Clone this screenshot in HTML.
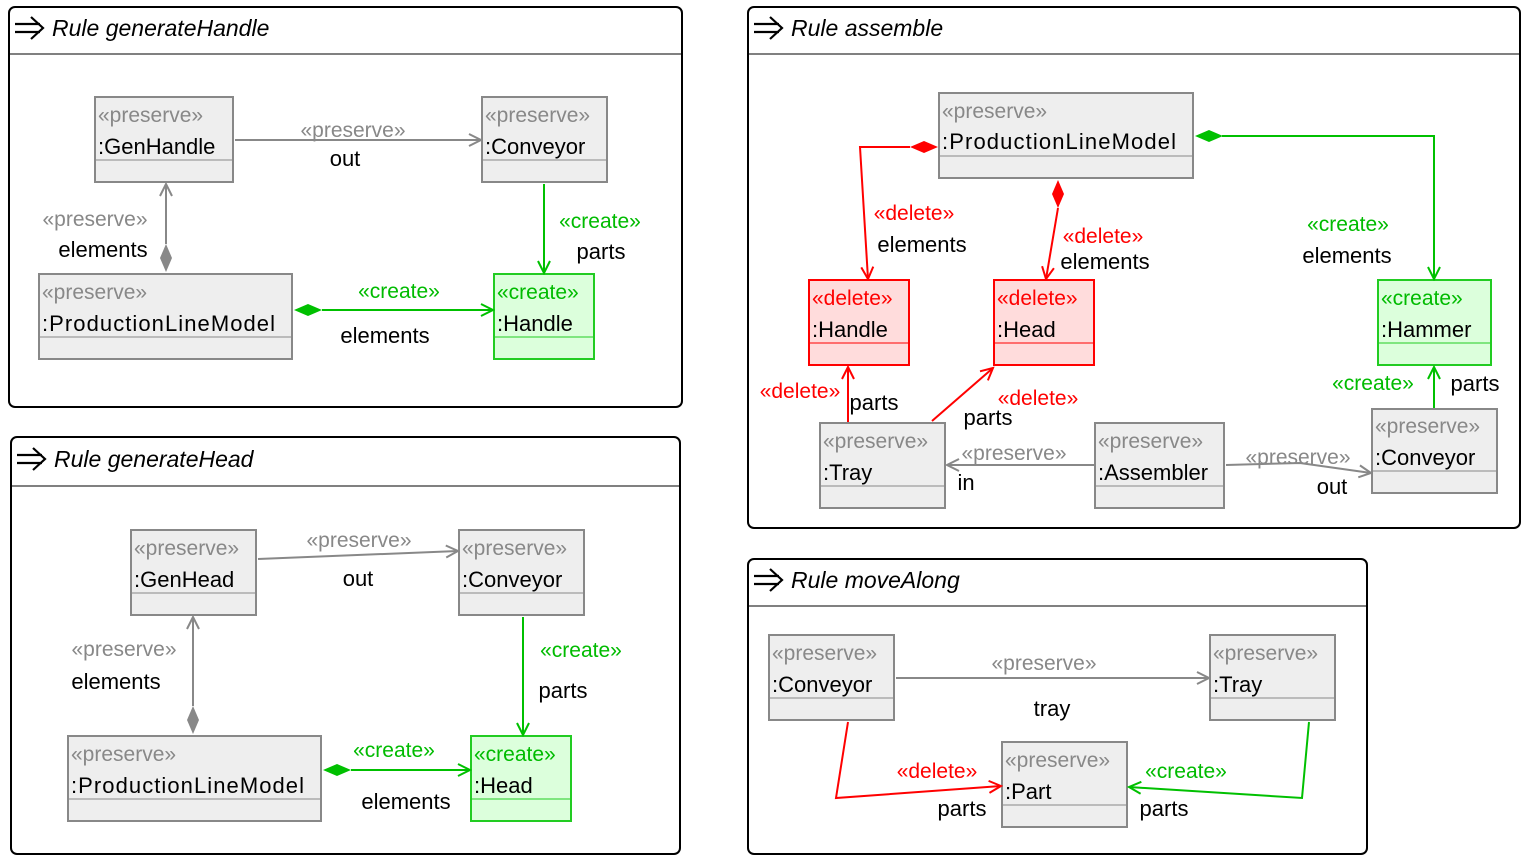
<!DOCTYPE html>
<html><head><meta charset="utf-8"><style>
html,body{margin:0;padding:0;background:#fff;}
svg{display:block;font-family:"Liberation Sans",sans-serif;}
.st{font-size:21px;fill:#888;}
.nm{font-size:22px;fill:#000;}
.lb{font-size:22px;fill:#000;}
.g{fill:#888;} .r{fill:#f00;} .c{fill:#00bb00;}
.hd{font-size:23px;font-style:italic;fill:#000;}
</style></head><body>
<svg width="1534" height="860" viewBox="0 0 1534 860" xmlns="http://www.w3.org/2000/svg">
<defs>
<marker id="ag" markerWidth="16" markerHeight="16" refX="14" refY="8" orient="auto" markerUnits="userSpaceOnUse"><path d="M2,2 L14,8 L2,14" fill="none" stroke="#888" stroke-width="2"/></marker>
<marker id="ar" markerWidth="16" markerHeight="16" refX="14" refY="8" orient="auto" markerUnits="userSpaceOnUse"><path d="M2,2 L14,8 L2,14" fill="none" stroke="#f00" stroke-width="2"/></marker>
<marker id="ac" markerWidth="16" markerHeight="16" refX="14" refY="8" orient="auto" markerUnits="userSpaceOnUse"><path d="M2,2 L14,8 L2,14" fill="none" stroke="#00c000" stroke-width="2"/></marker>
</defs>

<g fill="none" stroke="#000" stroke-width="2">
<rect x="9" y="7" width="673" height="400" rx="6"/><line x1="9" y1="54" x2="682" y2="54" stroke-width="1"/>
<rect x="11" y="437" width="669" height="417" rx="6"/><line x1="11" y1="486" x2="680" y2="486" stroke-width="1"/>
<rect x="748" y="7" width="772" height="521" rx="6"/><line x1="748" y1="54" x2="1520" y2="54" stroke-width="1"/>
<rect x="748" y="559" width="619" height="295" rx="6"/><line x1="748" y1="606" x2="1367" y2="606" stroke-width="1"/>
</g>
<g fill="none" stroke="#000" stroke-width="2.2">
<path d="M15,24 H40 M15,32 H40 M31,17 L43,28 L31,39"/>
<path d="M17,455 H42 M17,463 H42 M33,448 L45,459 L33,470"/>
<path d="M754,24 H779 M754,32 H779 M770,17 L782,28 L770,39"/>
<path d="M754,576 H779 M754,584 H779 M770,569 L782,580 L770,591"/>
</g>
<text class="hd" x="52" y="36">Rule generateHandle</text>
<text class="hd" x="54" y="467">Rule generateHead</text>
<text class="hd" x="791" y="36">Rule assemble</text>
<text class="hd" x="791" y="588">Rule moveAlong</text>

<g stroke-width="2">
<rect x="95" y="97" width="138" height="85" fill="#eee" stroke="#888"/><line x1="95" y1="160" x2="233" y2="160" stroke="#888" stroke-width="1"/>
<rect x="482" y="97" width="125" height="85" fill="#eee" stroke="#888"/><line x1="482" y1="160" x2="607" y2="160" stroke="#888" stroke-width="1"/>
<rect x="39" y="274" width="253" height="85" fill="#eee" stroke="#888"/><line x1="39" y1="337" x2="292" y2="337" stroke="#888" stroke-width="1"/>
<rect x="494" y="274" width="100" height="85" fill="#dcffdc" stroke="#22cc22"/><line x1="494" y1="337" x2="594" y2="337" stroke="#22cc22" stroke-width="1"/>
<rect x="131" y="530" width="125" height="85" fill="#eee" stroke="#888"/><line x1="131" y1="593" x2="256" y2="593" stroke="#888" stroke-width="1"/>
<rect x="459" y="530" width="125" height="85" fill="#eee" stroke="#888"/><line x1="459" y1="593" x2="584" y2="593" stroke="#888" stroke-width="1"/>
<rect x="68" y="736" width="253" height="85" fill="#eee" stroke="#888"/><line x1="68" y1="799" x2="321" y2="799" stroke="#888" stroke-width="1"/>
<rect x="471" y="736" width="100" height="85" fill="#dcffdc" stroke="#22cc22"/><line x1="471" y1="799" x2="571" y2="799" stroke="#22cc22" stroke-width="1"/>
<rect x="939" y="93" width="254" height="85" fill="#eee" stroke="#888"/><line x1="939" y1="156" x2="1193" y2="156" stroke="#888" stroke-width="1"/>
<rect x="809" y="280" width="100" height="85" fill="#ffdcdc" stroke="#f00"/><line x1="809" y1="343" x2="909" y2="343" stroke="#f00" stroke-width="1"/>
<rect x="994" y="280" width="100" height="85" fill="#ffdcdc" stroke="#f00"/><line x1="994" y1="343" x2="1094" y2="343" stroke="#f00" stroke-width="1"/>
<rect x="1378" y="280" width="113" height="85" fill="#dcffdc" stroke="#22cc22"/><line x1="1378" y1="343" x2="1491" y2="343" stroke="#22cc22" stroke-width="1"/>
<rect x="820" y="423" width="125" height="85" fill="#eee" stroke="#888"/><line x1="820" y1="486" x2="945" y2="486" stroke="#888" stroke-width="1"/>
<rect x="1095" y="423" width="129" height="85" fill="#eee" stroke="#888"/><line x1="1095" y1="486" x2="1224" y2="486" stroke="#888" stroke-width="1"/>
<rect x="1372" y="409" width="125" height="84" fill="#eee" stroke="#888"/><line x1="1372" y1="471" x2="1497" y2="471" stroke="#888" stroke-width="1"/>
<rect x="769" y="635" width="125" height="85" fill="#eee" stroke="#888"/><line x1="769" y1="698" x2="894" y2="698" stroke="#888" stroke-width="1"/>
<rect x="1210" y="635" width="125" height="85" fill="#eee" stroke="#888"/><line x1="1210" y1="698" x2="1335" y2="698" stroke="#888" stroke-width="1"/>
<rect x="1002" y="742" width="125" height="85" fill="#eee" stroke="#888"/><line x1="1002" y1="805" x2="1127" y2="805" stroke="#888" stroke-width="1"/>
</g>

<text class="st" x="98" y="122">«preserve»</text><text class="nm" x="98" y="154">:GenHandle</text>
<text class="st" x="485" y="122">«preserve»</text><text class="nm" x="485" y="154">:Conveyor</text>
<text class="st" x="42" y="299">«preserve»</text><text class="nm" x="42" y="331" textLength="233">:ProductionLineModel</text>
<text class="st c" x="497" y="299">«create»</text><text class="nm" x="497" y="331">:Handle</text>

<text class="st" x="134" y="555">«preserve»</text><text class="nm" x="134" y="587">:GenHead</text>
<text class="st" x="462" y="555">«preserve»</text><text class="nm" x="462" y="587">:Conveyor</text>
<text class="st" x="71" y="761">«preserve»</text><text class="nm" x="71" y="793" textLength="233">:ProductionLineModel</text>
<text class="st c" x="474" y="761">«create»</text><text class="nm" x="474" y="793">:Head</text>

<text class="st" x="942" y="118">«preserve»</text><text class="nm" x="942" y="149" textLength="234">:ProductionLineModel</text>
<text class="st r" x="812" y="305">«delete»</text><text class="nm" x="812" y="337">:Handle</text>
<text class="st r" x="997" y="305">«delete»</text><text class="nm" x="997" y="337">:Head</text>
<text class="st c" x="1381" y="305">«create»</text><text class="nm" x="1381" y="337">:Hammer</text>
<text class="st" x="823" y="448">«preserve»</text><text class="nm" x="823" y="480">:Tray</text>
<text class="st" x="1098" y="448">«preserve»</text><text class="nm" x="1098" y="480">:Assembler</text>
<text class="st" x="1375" y="433">«preserve»</text><text class="nm" x="1375" y="465">:Conveyor</text>

<text class="st" x="772" y="660">«preserve»</text><text class="nm" x="772" y="692">:Conveyor</text>
<text class="st" x="1213" y="660">«preserve»</text><text class="nm" x="1213" y="692">:Tray</text>
<text class="st" x="1005" y="767">«preserve»</text><text class="nm" x="1005" y="799">:Part</text>

<g fill="none" stroke-width="2">
<line x1="235" y1="140" x2="481" y2="140" stroke="#888" marker-end="url(#ag)"/>
<line x1="166" y1="244" x2="166" y2="184" stroke="#888" marker-end="url(#ag)"/>
<line x1="544" y1="184" x2="544" y2="273" stroke="#00c000" marker-end="url(#ac)"/>
<line x1="322" y1="310" x2="493" y2="310" stroke="#00c000" marker-end="url(#ac)"/>
<line x1="258" y1="559" x2="458" y2="551" stroke="#888" marker-end="url(#ag)"/>
<line x1="193" y1="706" x2="193" y2="617" stroke="#888" marker-end="url(#ag)"/>
<line x1="523" y1="617" x2="523" y2="735" stroke="#00c000" marker-end="url(#ac)"/>
<line x1="351" y1="770" x2="470" y2="770" stroke="#00c000" marker-end="url(#ac)"/>
<polyline points="910,147 860,147 868,279" stroke="#f00" marker-end="url(#ar)"/>
<line x1="1058" y1="208" x2="1046" y2="279" stroke="#f00" marker-end="url(#ar)"/>
<polyline points="1222,136 1434,136 1434,279" stroke="#00c000" marker-end="url(#ac)"/>
<line x1="848" y1="422" x2="848" y2="367" stroke="#f00" marker-end="url(#ar)"/>
<line x1="932" y1="421" x2="993" y2="368" stroke="#f00" marker-end="url(#ar)"/>
<line x1="1094" y1="465" x2="947" y2="465" stroke="#888" marker-end="url(#ag)"/>
<polyline points="1226,465 1300,463 1371,473" stroke="#888" marker-end="url(#ag)"/>
<line x1="1434" y1="408" x2="1434" y2="367" stroke="#00c000" marker-end="url(#ac)"/>
<line x1="896" y1="678" x2="1209" y2="678" stroke="#888" marker-end="url(#ag)"/>
<polyline points="848,722 836,798 1001,786" stroke="#f00" marker-end="url(#ar)"/>
<polyline points="1309,722 1302,798 1129,787" stroke="#00c000" marker-end="url(#ac)"/>
</g>
<polygon points="166,272 172,258 166,244 160,258" fill="#888"/>
<polygon points="294,310 308,304 322,310 308,316" fill="#00c000"/>
<polygon points="193,734 199,720 193,706 187,720" fill="#888"/>
<polygon points="323,770 337,764 351,770 337,776" fill="#00c000"/>
<polygon points="938,147 924,141 910,147 924,153" fill="#f00"/>
<polygon points="1058,180 1064,194 1058,208 1052,194" fill="#f00"/>
<polygon points="1195,136 1209,130 1223,136 1209,142" fill="#00c000"/>

<g text-anchor="middle">
<text class="st" x="353" y="137">«preserve»</text><text class="lb" x="345" y="166">out</text>
<text class="st" x="95" y="226">«preserve»</text><text class="lb" x="103" y="257">elements</text>
<text class="st c" x="600" y="228">«create»</text><text class="lb" x="601" y="259">parts</text>
<text class="st c" x="399" y="298">«create»</text><text class="lb" x="385" y="343">elements</text>

<text class="st" x="359" y="547">«preserve»</text><text class="lb" x="358" y="586">out</text>
<text class="st" x="124" y="656">«preserve»</text><text class="lb" x="116" y="689">elements</text>
<text class="st c" x="581" y="657">«create»</text><text class="lb" x="563" y="698">parts</text>
<text class="st c" x="394" y="757">«create»</text><text class="lb" x="406" y="809">elements</text>

<text class="st r" x="914" y="220">«delete»</text><text class="lb" x="922" y="252">elements</text>
<text class="st r" x="1103" y="243">«delete»</text><text class="lb" x="1105" y="269">elements</text>
<text class="st c" x="1348" y="231">«create»</text><text class="lb" x="1347" y="263">elements</text>
<text class="st r" x="800" y="398">«delete»</text><text class="lb" x="874" y="410">parts</text>
<text class="st r" x="1038" y="405">«delete»</text><text class="lb" x="988" y="425">parts</text>
<text class="st" x="1014" y="460">«preserve»</text><text class="lb" x="966" y="490">in</text>
<text class="st" x="1298" y="464">«preserve»</text><text class="lb" x="1332" y="494">out</text>
<text class="st c" x="1373" y="390">«create»</text><text class="lb" x="1475" y="391">parts</text>

<text class="st" x="1044" y="670">«preserve»</text><text class="lb" x="1052" y="716">tray</text>
<text class="st r" x="937" y="778">«delete»</text><text class="lb" x="962" y="816">parts</text>
<text class="st c" x="1186" y="778">«create»</text><text class="lb" x="1164" y="816">parts</text>
</g>
</svg>
</body></html>
